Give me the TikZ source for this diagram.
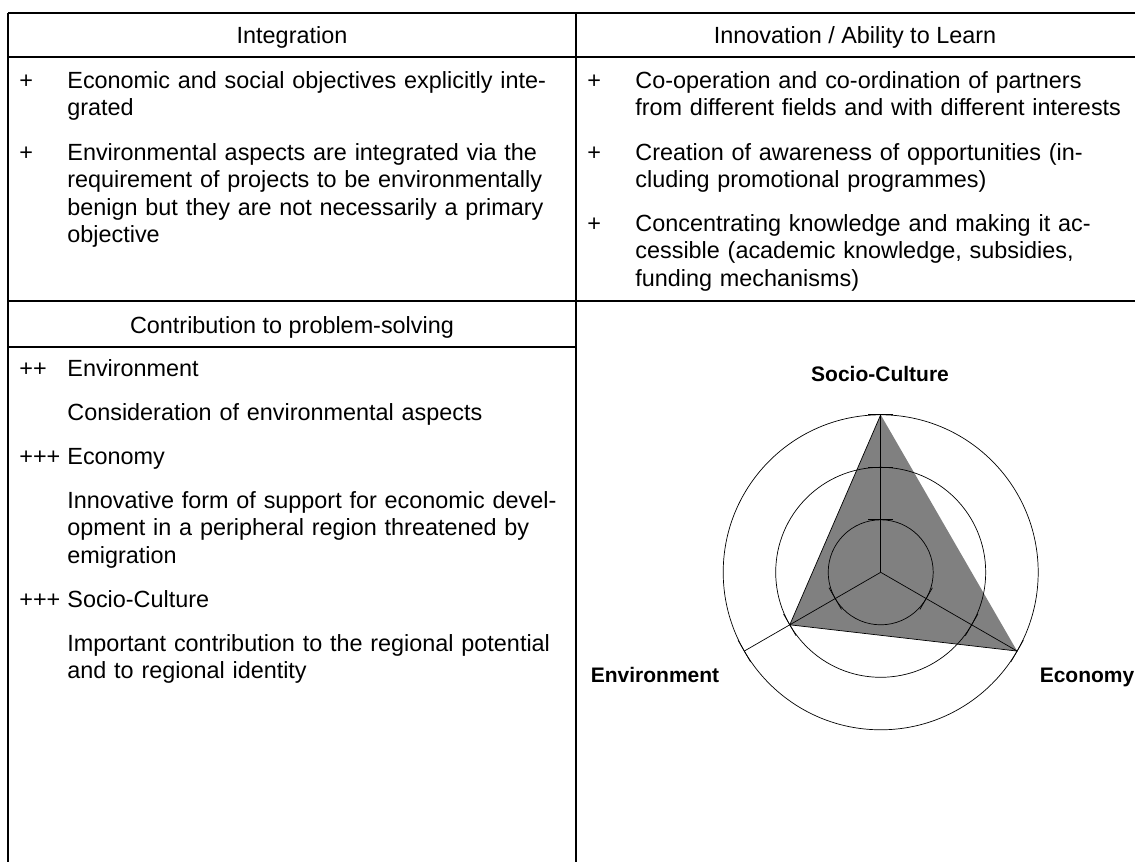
\documentclass[tikz,border=0pt]{standalone}
\usepackage{fontspec}
\setmainfont{Liberation Sans}
\begin{document}
\begin{tikzpicture}[x=0.5pt,y=-0.5pt,
  rule/.style={line width=1pt},
  web/.style={line width=0.35pt},
  head/.style={anchor=base,inner sep=0pt,font=\fontsize{11.7}{13.8}\selectfont},
  sign/.style={anchor=base west,inner sep=0pt,font=\fontsize{11.7}{13.8}\selectfont},
  txt/.style={anchor=base west,inner sep=0pt,align=left,text width=262pt,font=\fontsize{11.7}{13.8}\selectfont},
  axlabel/.style={anchor=base,inner sep=0pt,font=\fontsize{10.5}{12}\selectfont\bfseries}]
\useasboundingbox (0,0) rectangle (1135,862);

% table rules
\draw[rule] (8,13) -- (1135,13);
\draw[rule] (8,57) -- (1135,57);
\draw[rule] (8,301) -- (1135,301);
\draw[rule] (8,347) -- (576,347);
\draw[rule] (8,13) -- (8,862);
\draw[rule] (576,13) -- (576,862);

% headings
\node[head] (integ) at (292,43.5) {Integration};
\node[head] (innov) at (855,43.5) {Innovation / Ability to Learn};
\node[head] (contrib) at (292,333) {Contribution to problem-solving};

% integration
\node[sign] (i1s) at (19,88) {+};
\node[txt] (i1) at (67,88) {Economic and social objectives explicitly inte-\\grated};
\node[sign] (i2s) at (19,160) {+};
\node[txt] (i2) at (67,160) {Environmental aspects are integrated via the\\requirement of projects to be environmentally\\benign but they are not necessarily a primary\\objective};

% innovation
\node[sign] (n1s) at (587,88) {+};
\node[txt] (n1) at (635,88) {Co-operation and co-ordination of partners\\from different fields and with different interests};
\node[sign] (n2s) at (587,160) {+};
\node[txt] (n2) at (635,160) {Creation of awareness of opportunities (in-\\cluding promotional programmes)};
\node[sign] (n3s) at (587,231) {+};
\node[txt] (n3) at (635,231) {Concentrating knowledge and making it ac-\\cessible (academic knowledge, subsidies,\\funding mechanisms)};

% contribution
\node[sign] (envs) at (19,376) {++};
\node[txt] (env) at (67,376) {Environment};
\node[txt] (envt) at (67,420) {Consideration of environmental aspects};
\node[sign] (ecos) at (19,464) {+++};
\node[txt] (eco) at (67,464) {Economy};
\node[txt] (ecot) at (67,508) {Innovative form of support for economic devel-\\opment in a peripheral region threatened by\\emigration};
\node[sign] (socs) at (19,607) {+++};
\node[txt] (soc) at (67,607) {Socio-Culture};
\node[txt] (soct) at (67,651) {Important contribution to the regional potential\\and to regional identity};

% radar
\coordinate (c) at (880.7,572.3);
\path (c) ++(-90:157.5) coordinate (psoc);
\path (c) ++(30:157.5) coordinate (peco);
\path (c) ++(150:105) coordinate (penv);
\fill[gray] (psoc) -- (peco) -- (penv) -- cycle;
\draw[web] (psoc) -- (penv) -- (peco);
\foreach \r in {52.5,105,157.5}
  \draw[web] (c) circle[radius=\r];
\foreach \a in {-90,30,150} {
  \draw[web] (c) -- ++(\a:157.5);
  \foreach \r in {52.5,105,157.5}
    \draw[web] (c) ++(\a:\r) ++(\a+90:12.5) -- ++(\a-90:25);
}
\node[axlabel] (lsoc) at (880,381) {Socio-Culture};
\node[axlabel] (lenv) at (655,682) {Environment};
\node[axlabel] (leco) at (1087,682) {Economy};
\end{tikzpicture}
\end{document}
